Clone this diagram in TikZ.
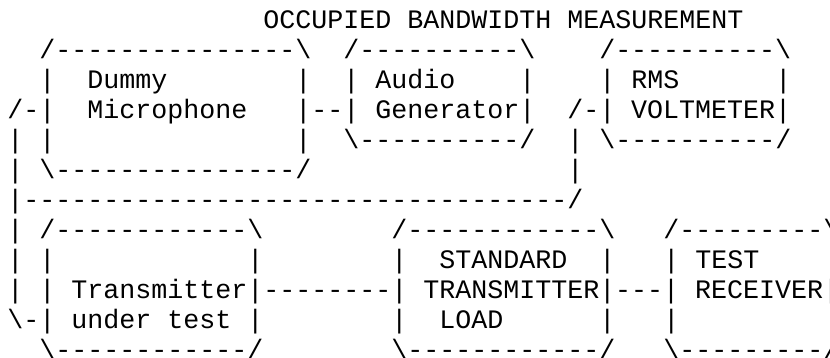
\documentclass[tikz,border=0pt]{standalone}
\usepackage{fontspec}
\setmonofont{Liberation Mono}
\usepackage{tikz}
\newcommand{\bsl}{\textbackslash{}}
\newcommand{\gap}[1]{\hspace*{#1\fontdimen2\font}}

\begin{document}
\begin{tikzpicture}[x=0.5pt,y=0.5pt,
  asciirow/.style={anchor=base west,inner sep=0pt,font=\ttfamily\fontsize{13.33}{15}\selectfont}]
\useasboundingbox (0,0) rectangle (830,-358);
\node[asciirow] (title) at (263,-28.3) {OCCUPIED BANDWIDTH MEASUREMENT};
% upper row: microphone, audio generator, voltmeter
\node[asciirow] (line1) at (7,-58.3) {\gap{2}/---------------\bsl\gap{2}/----------\bsl\gap{4}/----------\bsl};
\node[asciirow] (line2) at (7,-88.3) {\gap{2}|\gap{2}Dummy\gap{8}|\gap{2}|\gap{1}Audio\gap{4}|\gap{4}|\gap{1}RMS\gap{6}|};
\node[asciirow] (line3) at (7,-118.3) {/-|\gap{2}Microphone\gap{3}|--|\gap{1}Generator|\gap{2}/-|\gap{1}VOLTMETER|};
\node[asciirow] (line4) at (7,-148.3) {|\gap{1}|\gap{15}|\gap{2}\bsl----------/\gap{2}|\gap{1}\bsl----------/};
\node[asciirow] (line5) at (7,-178.3) {|\gap{1}\bsl---------------/\gap{16}|};
\node[asciirow] (line6) at (7,-208.3) {|----------------------------------/};
% lower row: transmitter, load, receiver
\node[asciirow] (line7) at (7,-238.3) {|\gap{1}/------------\bsl\gap{8}/------------\bsl\gap{3}/---------\bsl};
\node[asciirow] (line8) at (7,-268.3) {|\gap{1}|\gap{12}|\gap{8}|\gap{2}STANDARD\gap{2}|\gap{3}|\gap{1}TEST\gap{4}|};
\node[asciirow] (line9) at (7,-298.3) {|\gap{1}|\gap{1}Transmitter|--------|\gap{1}TRANSMITTER|---|\gap{1}RECEIVER|};
\node[asciirow] (line10) at (7,-328.3) {\bsl-|\gap{1}under\gap{1}test\gap{1}|\gap{8}|\gap{2}LOAD\gap{6}|\gap{3}|\gap{9}|};
\node[asciirow] (line11) at (7,-358.3) {\gap{2}\bsl------------/\gap{8}\bsl------------/\gap{3}\bsl---------/};
\end{tikzpicture}
\end{document}
